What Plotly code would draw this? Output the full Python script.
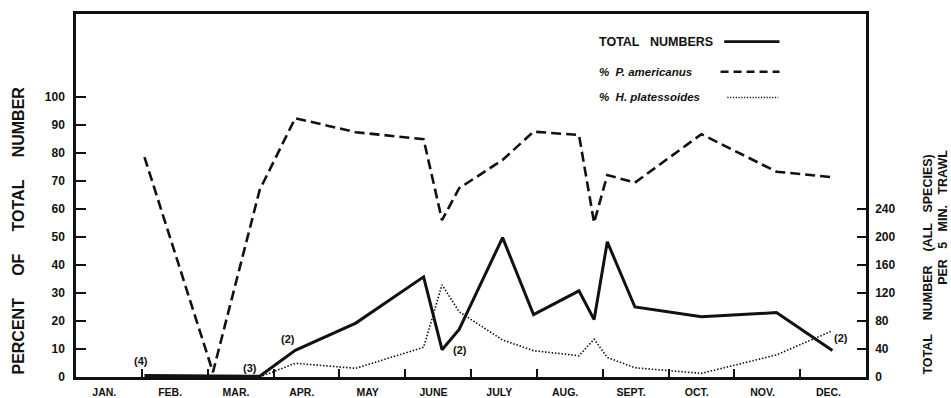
import plotly.graph_objects as go

# Sampling dates expressed as fractional months (0 = start of January)
sample_month = [1.04, 2.08, 2.79, 3.33, 4.25, 5.28, 5.56, 5.82, 6.48, 6.95,
                7.64, 7.87, 8.07, 8.49, 9.50, 10.64, 11.49]

# Total catch (all species) per 5 min. trawl -- right-hand axis
total_numbers = [2, 1, 1, 38, 77, 143, 39, 68, 199, 89,
                 123, 82, 193, 100, 86, 92, 38]

# Percent of total number -- left-hand axis
pct_americanus = [78.5, 1.7, 66.8, 92.4, 87.4, 84.9, 56.0, 67.4, 77.5, 87.6,
                  86.4, 55.1, 72.1, 69.4, 86.7, 73.3, 71.3]
pct_platessoides = [None, None, 0.0, 4.9, 3.1, 10.6, 32.9, 23.3, 13.2, 9.4,
                    7.6, 13.5, 7.0, 3.3, 1.3, 7.9, 16.5]

month_labels = ["JAN.", "FEB.", "MAR.", "APR.", "MAY", "JUNE",
                "JULY", "AUG.", "SEPT.", "OCT.", "NOV.", "DEC."]
pct_ticks = list(range(0, 101, 10))
total_ticks = list(range(0, 241, 40))

# Number of hauls noted beside some samples
haul_notes = [("(4)", 0.98, 5.7), ("(3)", 2.64, 3.1), ("(2)", 3.22, 13.5),
              ("(2)", 5.83, 9.8), ("(2)", 11.62, 13.8)]

FONT = "Liberation Sans"
BLACK = "#111111"
NB = "\u00a0"

fig = go.Figure()

fig.add_trace(go.Scatter(
    x=sample_month, y=pct_americanus, mode="lines", yaxis="y",
    line=dict(color=BLACK, width=2.6, dash="10px,5px"),
    name="% P. americanus", showlegend=False))

fig.add_trace(go.Scatter(
    x=sample_month, y=pct_platessoides, mode="lines", yaxis="y",
    line=dict(color=BLACK, width=1.6, dash="1.5px,1.8px"),
    name="% H. platessoides", showlegend=False, connectgaps=False))

fig.add_trace(go.Scatter(
    x=sample_month, y=total_numbers, mode="lines", yaxis="y2",
    line=dict(color=BLACK, width=3),
    name="TOTAL NUMBERS", showlegend=False))

annotations = []
for txt, xm, yv in haul_notes:
    annotations.append(dict(
        x=xm, y=yv, xref="x", yref="y", text=txt, showarrow=False,
        font=dict(family=FONT, size=11, color=BLACK, weight="bold")))

# Axis titles
annotations.append(dict(
    x=-0.074, y=0.0, xref="paper", yref="paper", xanchor="center", yanchor="bottom",
    text=f"PERCENT{NB*5}OF{NB*5}TOTAL{NB*5}NUMBER", textangle=-90, showarrow=False,
    font=dict(family=FONT, size=16, color=BLACK, weight="bold")))
annotations.append(dict(
    x=1.078, y=0.0, xref="paper", yref="paper", xanchor="center", yanchor="bottom",
    text=f"TOTAL{NB*4}NUMBER{NB*4}(ALL{NB*3}SPECIES)", textangle=-90, showarrow=False,
    font=dict(family=FONT, size=12.5, color=BLACK, weight="bold")))
annotations.append(dict(
    x=1.098, y=0.631, xref="paper", yref="paper", xanchor="center", yanchor="top",
    text=f"PER{NB*3}5{NB*3}MIN.{NB*3}TRAWL", textangle=-90, showarrow=False,
    font=dict(family=FONT, size=12.5, color=BLACK, weight="bold")))

# Legend block (text left, line sample right)
legend_rows = [
    (f"TOTAL{NB*3}NUMBERS", "normal", 0.924, 0.8205, 0.8905, "solid", 2.6),
    ("%  P. americanus", "italic", 0.841, 0.8159, 0.8905, "8px,5px", 2.4),
    ("%  H. platessoides", "italic", 0.770, 0.8245, 0.8890, "1.2px,1.6px", 1.4),
]
shapes = []
for label, style, yp, x0, x1, dash, w in legend_rows:
    annotations.append(dict(
        x=0.6595, y=yp, xref="paper", yref="paper", xanchor="left", yanchor="middle",
        text=label, showarrow=False,
        font=dict(family=FONT, size=12.5 if style == "normal" else 11.5,
                  color=BLACK, weight="bold", style=style)))
    shapes.append(dict(
        type="line", xref="paper", yref="paper", x0=x0, x1=x1, y0=yp, y1=yp,
        line=dict(color=BLACK, width=w, dash=dash)))

fig.update_layout(
    width=951, height=398,
    margin=dict(l=76, r=85, t=14, b=21),
    paper_bgcolor="white", plot_bgcolor="white",
    showlegend=False,
    font=dict(family=FONT, color=BLACK),
    annotations=annotations,
    shapes=shapes,
    xaxis=dict(
        range=[0, 12], showgrid=False, zeroline=False, automargin=False,
        showline=True, linewidth=2.5, linecolor=BLACK, mirror=True,
        tickmode="array", tickvals=[i + 0.43 for i in range(12)], ticktext=month_labels,
        ticks="", ticklabelstandoff=4,
        tickfont=dict(family=FONT, size=10.5, color=BLACK, weight="bold"),
        minor=dict(tickmode="array", tickvals=list(range(1, 12)), ticks="inside",
                   ticklen=8, tickwidth=2, tickcolor=BLACK, showgrid=False),
    ),
    yaxis=dict(
        range=[0, 129.6], showgrid=False, zeroline=False, automargin=False,
        showline=True, linewidth=2.5, linecolor=BLACK,
        tickmode="array", tickvals=pct_ticks,
        ticks="inside", ticklen=10, tickwidth=2, tickcolor=BLACK,
        ticklabelstandoff=6,
        tickfont=dict(family=FONT, size=12, color=BLACK, weight="bold"),
    ),
    yaxis2=dict(
        range=[0, 518.4], overlaying="y", side="right", showgrid=False, zeroline=False,
        automargin=False,
        showline=True, linewidth=2.5, linecolor=BLACK,
        tickmode="array", tickvals=total_ticks,
        ticks="inside", ticklen=9, tickwidth=2, tickcolor=BLACK,
        ticklabelstandoff=4,
        tickfont=dict(family=FONT, size=12, color=BLACK, weight="bold"),
    ),
)

fig.write_html("out.html")
